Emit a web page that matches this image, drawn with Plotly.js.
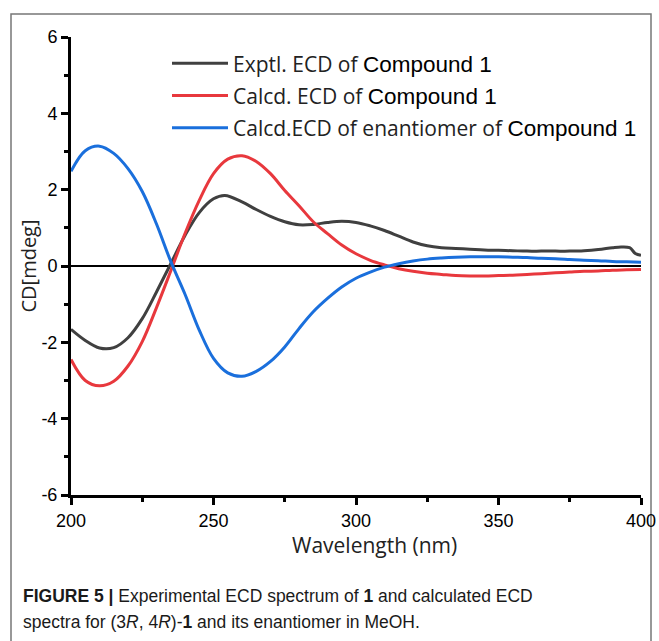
<!DOCTYPE html>
<html>
<head>
<meta charset="utf-8">
<script src="https://cdn.plot.ly/plotly-3.0.1.min.js"></script>
<style>
html,body{margin:0;padding:0;background:#fff;}
#chart{width:659px;height:641px;}
</style>
</head>
<body>
<div id="chart"></div>
<script>
// Wavelength grids (nm)
const wlCalc = [200,205,210,215,220,225,230,235,240,245,250,255,260,265,270,275,280,285,290,295,300,305,310,315,320,325,330,335,340,345,350,355,360,365,370,375,380,385,390,395,400];
const wlExp = [200,205,210,215,220,225,230,235,240,245,250,254,260,265,270,275,280,285,290,295,300,305,310,315,320,325,330,335,340,345,350,355,360,365,370,375,380,385,390,393,396,398,400];

// CD values (mdeg)
const cdExp = [-1.66,-1.95,-2.15,-2.14,-1.88,-1.38,-0.68,0.06,0.8,1.4,1.76,1.85,1.68,1.48,1.3,1.16,1.08,1.09,1.14,1.17,1.14,1.05,0.93,0.78,0.63,0.53,0.48,0.46,0.44,0.42,0.41,0.4,0.39,0.39,0.39,0.39,0.4,0.43,0.48,0.5,0.48,0.33,0.28];
const cdCalc = [-2.45,-3.0,-3.14,-3.02,-2.62,-1.98,-1.09,-0.13,0.85,1.72,2.42,2.8,2.89,2.74,2.42,1.98,1.58,1.16,0.85,0.55,0.32,0.15,0.03,-0.07,-0.14,-0.19,-0.22,-0.25,-0.26,-0.26,-0.25,-0.24,-0.22,-0.2,-0.18,-0.16,-0.14,-0.13,-0.11,-0.1,-0.09];
const cdEnant = [2.48,3.02,3.14,2.95,2.55,1.95,1.1,0.12,-0.74,-1.68,-2.42,-2.8,-2.89,-2.76,-2.5,-2.12,-1.64,-1.2,-0.85,-0.55,-0.32,-0.16,-0.03,0.06,0.13,0.18,0.21,0.23,0.24,0.24,0.24,0.23,0.22,0.2,0.19,0.17,0.15,0.14,0.12,0.11,0.1];

// Tick labels
const xTickVals = [200,250,300,350,400];
const xTickText = ['200','250','300','350','400'];
const yTickVals = [-6,-4,-2,0,2,4,6];
const yTickText = ['-6','-4','-2','0','2','4','6'];

const pre = 'font-family:\'Open Sans\';font-size:21px;color:#222';
const seriesNames = [
  '<span style="' + pre + '">Exptl. ECD of </span>Compound 1',
  '<span style="' + pre + '">Calcd. ECD of </span>Compound 1',
  '<span style="' + pre + '">Calcd.ECD of enantiomer of </span>Compound 1'
];
const colors = ['#404040','#e8383d','#1a6fdc'];

const traces = [
  {x: wlExp, y: cdExp, name: seriesNames[0]},
  {x: wlCalc, y: cdCalc, name: seriesNames[1]},
  {x: wlCalc, y: cdEnant, name: seriesNames[2]}
].map((t,i)=>Object.assign(t,{type:'scatter',mode:'lines',line:{color:colors[i],width:3,shape:'spline',smoothing:1}}));

const L = 71, R = 641, T = 37, B = 495;
const px = v => (v - L)/(R - L);
const py = v => (B - v)/(B - T);

const layout = {
  width: 659, height: 641,
  margin: {l: L, r: 659 - R, t: T, b: 641 - B},
  paper_bgcolor: '#fff', plot_bgcolor: '#fff',
  font: {family: 'Liberation Sans, Arial, sans-serif', color: '#000'},
  showlegend: true,
  legend: {
    x: px(167), y: py(42), xanchor: 'left', yanchor: 'top',
    bgcolor: 'rgba(0,0,0,0)',
    font: {family: 'Liberation Sans, Arial, sans-serif', size: 22.5, color: '#000'},
    itemwidth: 56
  },
  xaxis: {
    range: [200, 400], tickvals: xTickVals, ticktext: xTickText,
    showline: true, linecolor: '#000', linewidth: 3,
    ticks: 'outside', ticklen: 7, tickwidth: 3, tickcolor: '#000',
    minor: {dtick: 25, tick0: 200, ticks: 'outside', ticklen: 4, tickwidth: 3, tickcolor: '#000'},
    showgrid: false, zeroline: false,
    tickfont: {size: 18, family: 'Liberation Sans, Arial, sans-serif'}
  },
  yaxis: {
    range: [-6, 6], tickvals: yTickVals, ticktext: yTickText,
    showline: true, linecolor: '#000', linewidth: 3,
    ticks: 'outside', ticklen: 7, tickwidth: 3, tickcolor: '#000',
    minor: {dtick: 1, tick0: 0, ticks: 'outside', ticklen: 4, tickwidth: 3, tickcolor: '#000'},
    showgrid: false,
    zeroline: true, zerolinecolor: '#000', zerolinewidth: 2.5,
    tickfont: {size: 18, family: 'Liberation Sans, Arial, sans-serif'},
    title: {text: 'CD[mdeg]', font: {family: 'Open Sans', size: 20, color: '#222'}, standoff: 0}
  },
  shapes: [
    {type: 'rect', xref: 'paper', yref: 'paper', x0: px(11), x1: px(651), y0: py(660), y1: py(14),
     line: {color: '#777', width: 1.5}, fillcolor: 'rgba(0,0,0,0)', layer: 'below'}
  ],
  annotations: [
    {xref: 'paper', yref: 'paper', x: px(374), y: py(545), xanchor: 'center', yanchor: 'middle', showarrow: false,
     text: 'Wavelength (nm)', font: {family: 'Open Sans', size: 21, color: '#222'}},
    {xref: 'paper', yref: 'paper', x: px(21), y: py(596), xanchor: 'left', yanchor: 'middle', showarrow: false,
     align: 'left',
     text: '<b>FIGURE 5 |</b> Experimental ECD spectrum of <b>1</b> and calculated ECD',
     font: {family: 'Liberation Sans, Arial, sans-serif', size: 17.5, color: '#1a1a1a'}},
    {xref: 'paper', yref: 'paper', x: px(21), y: py(622), xanchor: 'left', yanchor: 'middle', showarrow: false,
     align: 'left',
     text: 'spectra for (3<i>R</i>, 4<i>R</i>)-<b>1</b> and its enantiomer in MeOH.',
     font: {family: 'Liberation Sans, Arial, sans-serif', size: 17.5, color: '#1a1a1a'}}
  ]
};

Plotly.newPlot('chart', traces, layout, {staticPlot: true, displayModeBar: false});
</script>
</body>
</html>
